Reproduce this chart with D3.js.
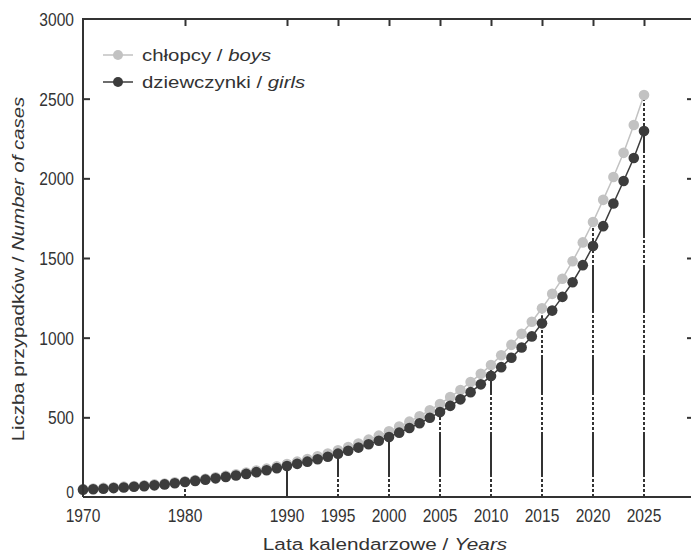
<!DOCTYPE html>
<html><head><meta charset="utf-8">
<script src="https://cdn.jsdelivr.net/npm/d3@7"></script>
<style>
body{margin:0;background:#fff}
svg{display:block}
text{font-family:"Liberation Sans",Arial,Helvetica,sans-serif;fill:#333}
</style>
</head><body>
<svg id="chart" width="691" height="553"></svg>
<script>
// ---- data ----
const startYear = 1970;
const boys = [50,53,57,61,65,69,74,79,85,92,
  99,107,115,124,133,143,154,166,178,192,
  207,222,238,255,273,293,314,336,360,385,
  412,442,473,507,544,584,627,672,721,773,
  828,890,955,1025,1100,1185,1275,1370,1480,1598,
  1726,1865,2008,2160,2335,2523];
const girls = [46,49,52,56,60,64,68,73,79,86,
  94,101,109,117,126,135,145,156,168,181,
  195,208,222,237,253,272,290,310,331,353,
  377,404,433,463,497,533,572,613,658,707,
  760,815,874,938,1008,1090,1170,1256,1348,1455,
  1575,1700,1842,1983,2128,2297];
const xTickYears = [1970,1980,1990,1995,2000,2005,2010,2015,2020,2025];
const yTicks = [0,500,1000,1500,2000,2500,3000];
const refYears = [1980,1990,1995,2000,2005,2010,2015,2020,2025];
const solidRefYears = [1990];
const seriesLabels = [["chłopcy / ","boys"],["dziewczynki / ","girls"]];
const xTitle = ["Lata kalendarzowe / ","Years"];
const yTitle = ["Liczba przypadków / ","Number of cases"];

// ---- styles ----
const colBoys = "#c2c2c2", colGirls = "#3c3c3c", colAxis = "#333";

const svg = d3.select("#chart");
const x = d3.scaleLinear().domain([1970, 2030]).range([83, 695]);
const y = d3.scaleLinear().domain([0, 3000]).range([497, 19]);

const years = boys.map((d, i) => startYear + i);
const rows = years.map((yr, i) => ({yr, b: boys[i], g: girls[i]}));

// dash pattern for reference lines (from axis upward)
function buildDash() {
  const segs = [["d",20],["s",42],["d",38],["s",37],["d",45],["s",45],["d",30],["s",50],["d",33],["s",2000]];
  const arr = [];
  segs.forEach(([t, L]) => {
    if (t === "s") { arr.push(L, 0); }
    else { for (let k = 0; k < L; k += 5) arr.push(3, 2); }
  });
  return arr.join(",");
}
const dashStr = buildDash();

// reference vertical lines
const ref = svg.append("g");
refYears.forEach(yr => {
  const r = rows.find(d => d.yr === yr);
  ref.append("line")
    .attr("x1", x(yr)).attr("x2", x(yr))
    .attr("y1", y(0)).attr("y2", y(r.g))
    .attr("stroke", colAxis).attr("stroke-width", 2)
    .attr("stroke-dasharray", solidRefYears.includes(yr) ? null : dashStr);
  ref.append("line")
    .attr("x1", x(yr)).attr("x2", x(yr))
    .attr("y1", y(r.g)).attr("y2", y(r.b))
    .attr("stroke", colAxis).attr("stroke-width", 2)
    .attr("stroke-dasharray", "3,2");
});

// series
const lineB = d3.line().x(d => x(d.yr)).y(d => y(d.b));
const lineG = d3.line().x(d => x(d.yr)).y(d => y(d.g));
svg.append("path").datum(rows).attr("d", lineB).attr("fill","none").attr("stroke",colBoys).attr("stroke-width",1.5);
svg.append("g").selectAll("circle").data(rows).join("circle")
  .attr("cx", d => x(d.yr)).attr("cy", d => y(d.b)).attr("r", 5.3).attr("fill", colBoys);
svg.append("path").datum(rows).attr("d", lineG).attr("fill","none").attr("stroke",colGirls).attr("stroke-width",1.5);
svg.append("g").selectAll("circle").data(rows).join("circle")
  .attr("cx", d => x(d.yr)).attr("cy", d => y(d.g)).attr("r", 5.3).attr("fill", colGirls);

// frame / axes
const ax = svg.append("g").attr("fill","none").attr("stroke",colAxis).attr("stroke-width",2);
ax.append("path").attr("d", `M${x(1970)},${y(0)}V${y(3000)}H${x(2030)}V${y(0)}H${x(1970)}`);

// left axis ticks (inward)
svg.append("g").attr("transform", `translate(${x(1970)},0)`)
  .call(d3.axisRight(y).tickValues(yTicks.filter(v => v > 0 && v < 3000)).tickSize(7).tickFormat(""))
  .call(g => { g.select(".domain").remove(); g.selectAll("line").attr("stroke", colAxis).attr("stroke-width", 2); });
// right axis ticks (inward)
svg.append("g").attr("transform", `translate(${x(2030)},0)`)
  .call(d3.axisLeft(y).tickValues(yTicks.filter(v => v > 0 && v < 3000)).tickSize(8).tickFormat(""))
  .call(g => { g.select(".domain").remove(); g.selectAll("line").attr("stroke", colAxis).attr("stroke-width", 2); });
// top axis ticks (inward)
svg.append("g").attr("transform", `translate(0,${y(3000)})`)
  .call(d3.axisBottom(x).tickValues(xTickYears.filter(v => v > 1970)).tickSize(7).tickFormat(""))
  .call(g => { g.select(".domain").remove(); g.selectAll("line").attr("stroke", colAxis).attr("stroke-width", 2); });

// y tick labels (the "0" sits a little higher, as in the reference)
svg.append("g").selectAll("g").data(yTicks).join("g")
  .attr("transform", v => `translate(74,${y(v) - (v === 0 ? 5 : 0)}) scale(0.82,1)`)
  .append("text").attr("text-anchor","end").attr("dy","0.36em")
  .style("font-size", v => v === 0 ? "17px" : "19px").text(v => v);

// x tick labels
svg.append("g").selectAll("g").data(xTickYears).join("g")
  .attr("transform", v => `translate(${x(v)},522) scale(0.82,1)`)
  .append("text").attr("text-anchor","middle")
  .style("font-size","19px").text(v => v);

// titles
function twoPart(g, parts) {
  const t = g.append("text").style("font-size","17px");
  t.append("tspan").text(parts[0]);
  t.append("tspan").style("font-style","italic").text(parts[1]);
  return t;
}
twoPart(svg.append("g").attr("transform", `translate(385,550) scale(1.22,1)`), xTitle)
  .attr("text-anchor","middle");
twoPart(svg.append("g").attr("transform", `translate(24,269) rotate(-90) scale(1.2,1)`), yTitle)
  .attr("text-anchor","middle");

// legend
const legend = svg.append("g");
[[colBoys, 55, 0], [colGirls, 82, 1]].forEach(([c, ly, i]) => {
  legend.append("line").attr("x1",103).attr("x2",133).attr("y1",ly).attr("y2",ly)
    .attr("stroke", c).attr("stroke-width", 1.5);
  legend.append("circle").attr("cx",118).attr("cy",ly).attr("r",5).attr("fill",c);
  twoPart(legend.append("g").attr("transform", `translate(142,${ly+6}) scale(1.2,1)`), seriesLabels[i]);
});
</script>
</body></html>
